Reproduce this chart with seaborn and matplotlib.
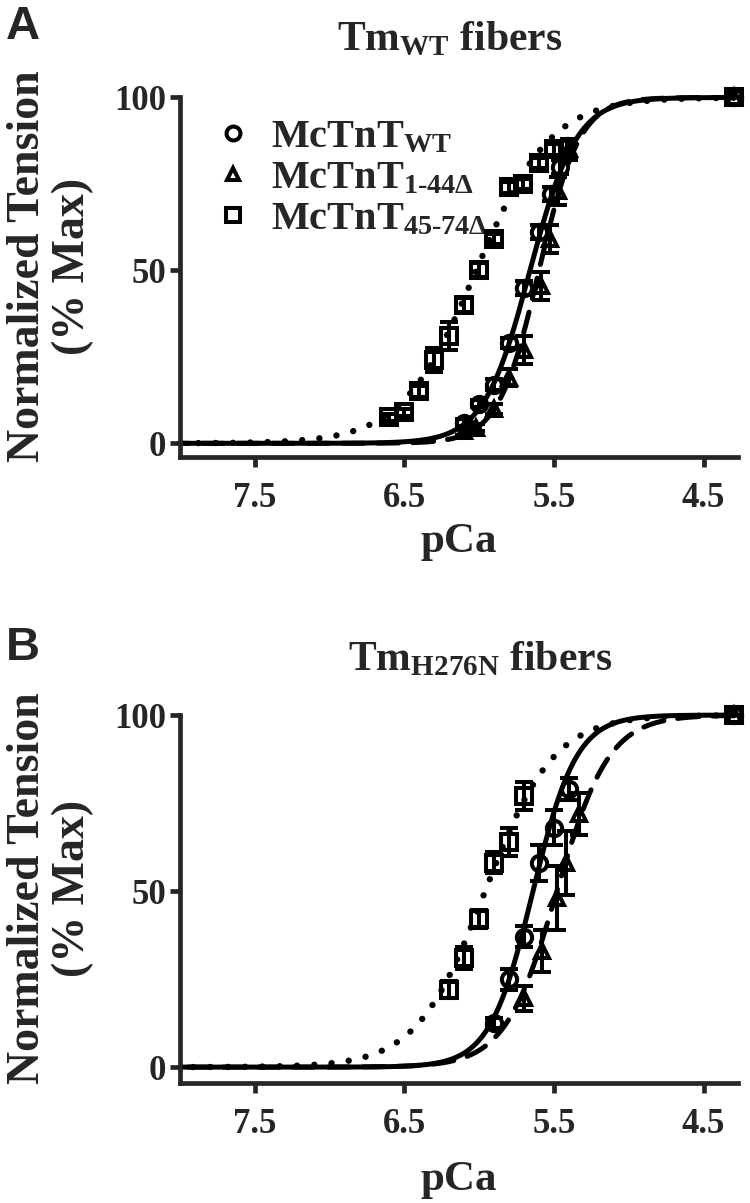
import numpy as np
import pandas as pd
import matplotlib
matplotlib.use("Agg")
import matplotlib.pyplot as plt
import seaborn as sns
from matplotlib.lines import Line2D

# ---------------- data ----------------
# Panel A : Tm_WT fibers
wt_pca_A = [6.10, 6.00, 5.90, 5.80, 5.70, 5.60, 5.52, 5.46, 5.41, 4.30]
wt_y_A = [6, 11.5, 17, 29, 45, 61, 72, 80, 86, 100]
wt_err_A = [1, 1, 1.5, 1.5, 2, 2, 2, 2, 1.5, 0]

d144_pca_A = [6.10, 6.02, 5.90, 5.80, 5.70, 5.59, 5.53, 5.47, 5.40, 4.30]
d144_y_A = [3.5, 4.5, 10, 19, 27, 45.5, 59, 73, 85, 100]
d144_err_A = [1, 1, 1.5, 2.5, 4, 4, 4, 4, 3, 0]

d4574_pca_A = [6.60, 6.50, 6.40, 6.30, 6.20, 6.10, 6.00, 5.90, 5.80, 5.71, 5.60, 5.50, 4.30]
d4574_y_A = [7.5, 9, 15, 24, 31, 40, 50, 59, 74, 75, 81, 85, 100]
d4574_err_A = [1, 1, 1.5, 3.5, 4, 2, 2, 1.5, 1.5, 1.5, 1.5, 1.5, 0]

# Panel B : Tm_H276N fibers
wt_pca_B = [5.90, 5.80, 5.70, 5.60, 5.50, 5.40, 4.30]
wt_y_B = [12.5, 25, 37, 58, 68, 79, 100]
wt_err_B = [1.5, 3, 3, 5, 5, 3, 0]

d144_pca_B = [5.70, 5.58, 5.48, 5.42, 5.33, 4.30]
d144_y_B = [19.5, 33, 48, 58, 72, 100]
d144_err_B = [3.5, 6, 9, 9, 6, 0]

d4574_pca_B = [6.20, 6.10, 6.00, 5.90, 5.80, 5.70, 4.30]
d4574_y_B = [22, 31, 42, 58, 64, 77, 100]
d4574_err_B = [2.5, 3, 2.5, 3, 4, 4, 0]

# Hill-fit parameters (pCa50, nH) for the fitted curves
hill_A = {"WT": (5.66, 2.8), "1-44": (5.60, 3.2), "45-74": (6.02, 1.75)}
hill_B = {"WT": (5.64, 3.0), "1-44": (5.48, 2.5), "45-74": (5.96, 1.9)}

series_names = ["McTnT$_{\\mathrm{WT}}$",
                "McTnT$_{\\mathrm{1\\text{-}44\u0394}}$",
                "McTnT$_{\\mathrm{45\\text{-}74\u0394}}$"]
x_ticks = [7.5, 6.5, 5.5, 4.5]
x_ticklabels = ["7.5", "6.5", "5.5", "4.5"]
y_ticks = [0, 50, 100]

# ---------------- style ----------------
sns.set_theme(style="ticks")
plt.rcParams["font.family"] = ["Liberation Serif", "DejaVu Serif"]
plt.rcParams["font.weight"] = "bold"
plt.rcParams["mathtext.fontset"] = "custom"
plt.rcParams["mathtext.rm"] = "Liberation Serif:bold"
plt.rcParams["mathtext.it"] = "Liberation Serif:bold"
plt.rcParams["mathtext.bf"] = "Liberation Serif:bold"

fig = plt.figure(figsize=(7.5, 12.03), dpi=100)
axA = fig.add_axes([0.24, 0.620, 0.744, 0.299])
axB = fig.add_axes([0.24, 0.0998, 0.744, 0.3058])

styles = {"WT": dict(linestyle="-", lw=3.6),
          "1-44": dict(linestyle=(0, (4.2, 2.8)), lw=3.6),
          "45-74": dict(linestyle=(0, (0.01, 2.7)), lw=4.6)}
markers = {"WT": "o", "1-44": "^", "45-74": "s"}
msizes = {"WT": 11, "1-44": 10, "45-74": 11}


def hill(pca, p50, n):
    return 100.0 / (1.0 + 10 ** (n * (pca - p50)))


def draw(ax, hill_params, data, ylo):
    xs = np.linspace(8.0, 4.30, 400)
    for key in ["WT", "1-44", "45-74"]:
        p50, n = hill_params[key]
        df = pd.DataFrame({"pCa": xs, "T": hill(xs, p50, n)})
        sns.lineplot(data=df, x="pCa", y="T", ax=ax, color="black",
                     dash_capstyle="round", solid_capstyle="round",
                     clip_on=False, **styles[key])
    for key, (px, py, pe) in data.items():
        ax.errorbar(px, py, yerr=pe, fmt=markers[key], ms=msizes[key],
                    mfc="none", mec="black", mew=2.9, ecolor="black",
                    elinewidth=2.9, capsize=6.5, capthick=2.9, clip_on=False,
                    zorder=5)
    ax.set_xlim(8.0, 4.27)
    ax.set_ylim(ylo, 100)
    ax.set_xticks(x_ticks)
    ax.set_xticklabels(x_ticklabels)
    ax.set_yticks(y_ticks)
    sns.despine(ax=ax)
    for s in ["left", "bottom"]:
        ax.spines[s].set_linewidth(3.4)
    ax.spines["left"].set_bounds(ylo, 100)
    ax.tick_params(axis="both", which="major", width=3.4, length=7,
                   labelsize=25, direction="out")
    ax.tick_params(axis="x", pad=11)
    ax.tick_params(axis="y", pad=3)
    for lab in ax.get_xticklabels() + ax.get_yticklabels():
        lab.set_fontweight("bold")
    ax.set_xlabel("pCa", fontsize=31, fontweight="bold")
    ax.set_ylabel("Normalized Tension\n(% Max)", fontsize=33,
                  fontweight="bold", linespacing=1.1)
    ax.yaxis.label.set_va("center")
    ax.xaxis.label.set_va("center")


draw(axA, hill_A, {"WT": (wt_pca_A, wt_y_A, wt_err_A),
                   "1-44": (d144_pca_A, d144_y_A, d144_err_A),
                   "45-74": (d4574_pca_A, d4574_y_A, d4574_err_A)}, -4)
draw(axB, hill_B, {"WT": (wt_pca_B, wt_y_B, wt_err_B),
                   "1-44": (d144_pca_B, d144_y_B, d144_err_B),
                   "45-74": (d4574_pca_B, d4574_y_B, d4574_err_B)}, -4.5)

axA.yaxis.set_label_coords(-0.232, 0.53)
axB.yaxis.set_label_coords(-0.232, 0.53)
axA.xaxis.set_label_coords(0.50, -0.235)
axB.xaxis.set_label_coords(0.50, -0.265)

# legend (panel A)
handles = [Line2D([], [], marker=markers[k], ms=msizes[k] - 1, mfc="none",
                  mec="black", mew=2.9, linestyle="none")
           for k in ["WT", "1-44", "45-74"]]
axA.legend(handles, series_names, loc="upper left", bbox_to_anchor=(0.03, 0.985),
           frameon=False, fontsize=29, handletextpad=0.45, labelspacing=0.1,
           handlelength=1.0, borderaxespad=0)

# titles and panel letters
fig.text(450 / 750, 1 - 40 / 1203, "Tm$_{\\mathrm{WT}}$ fibers", ha="center",
         va="center", fontsize=30, fontweight="bold")
fig.text(480 / 750, 1 - 660 / 1203, "Tm$_{\\mathrm{H276N}}$ fibers", ha="center",
         va="center", fontsize=30, fontweight="bold")
fig.text(6 / 750, 1 - 5 / 1203, "A", ha="left", va="top", fontsize=34,
         fontweight="bold", family="Liberation Sans")
fig.text(6 / 750, 1 - 626 / 1203, "B", ha="left", va="top", fontsize=34,
         fontweight="bold", family="Liberation Sans")

fig.savefig("out.png", dpi=100)
